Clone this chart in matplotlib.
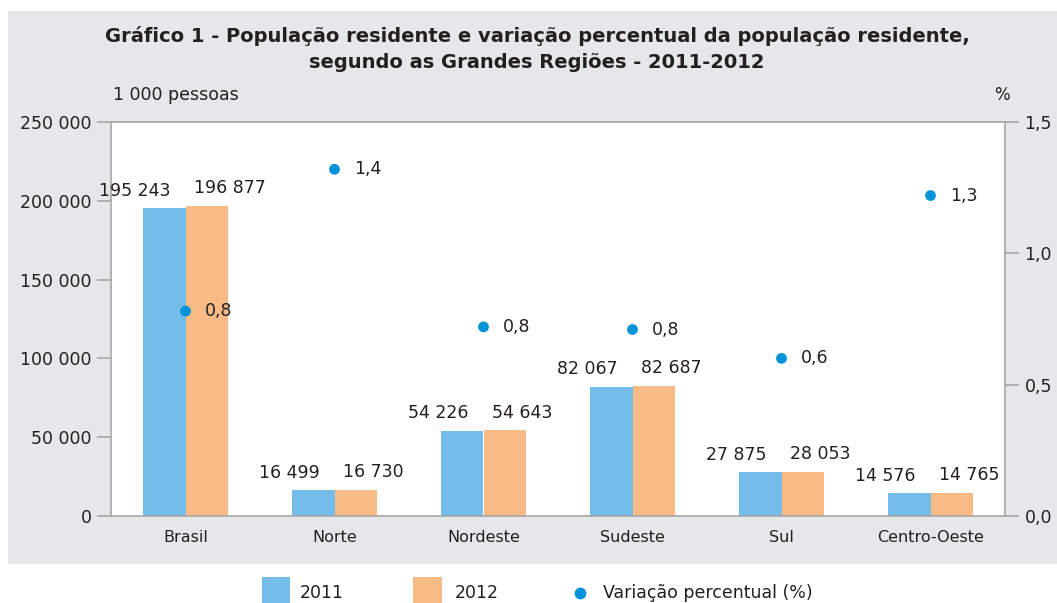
import numpy as np
import matplotlib.pyplot as plt
from matplotlib.patches import Rectangle

plt.rcParams['font.family'] = ['DejaVu Sans']

# data
regions = ['Brasil', 'Norte', 'Nordeste', 'Sudeste', 'Sul', 'Centro-Oeste']
pop_2011 = [195243, 16499, 54226, 82067, 27875, 14576]
pop_2012 = [196877, 16730, 54643, 82687, 28053, 14765]
var_pct = [0.78, 1.32, 0.72, 0.71, 0.60, 1.22]
var_labels = ['0,8', '1,4', '0,8', '0,8', '0,6', '1,3']
legend_labels = ['2011', '2012', 'Variação percentual (%)']

c_2011 = '#74bde8'
c_2012 = '#f9bb85'
c_dot = '#0093d8'
c_bg = '#e6e7e9'
c_axis = '#a6a6a6'
c_text = '#231f20'

W, H = 1057, 603
fig = plt.figure(figsize=(W / 100, H / 100), dpi=100)
fig.patches.append(Rectangle((8 / W, 1 - 564 / H), 1.0, (564 - 11) / H, transform=fig.transFigure,
                             facecolor=c_bg, edgecolor='none', zorder=-10))

ax = fig.add_axes([111 / W, 1 - 516 / H, (1005 - 111) / W, (516 - 122) / H])
ax.set_facecolor('white')
x = np.arange(len(regions))
w = 0.285
ax.bar(x - w/2, pop_2011, w, color=c_2011, zorder=2)
ax.bar(x + w/2, pop_2012, w, color=c_2012, zorder=2)
ax.set_xlim(-0.5, len(regions) - 0.5)
ax.set_ylim(0, 250000)
ax.set_yticks(np.arange(0, 250001, 50000))
ax.set_yticklabels([f'{v:,}'.replace(',', ' ') for v in range(0, 250001, 50000)])
ax.set_xticks(x)
ax.set_xticklabels(regions)
ax.tick_params(axis='x', length=0, pad=10, labelsize=11.5, labelcolor=c_text)
ax.tick_params(axis='y', length=10, color=c_axis, width=1.2, labelsize=12.5, labelcolor=c_text, pad=4)
for s in ax.spines.values():
    s.set_color(c_axis)
    s.set_linewidth(1.2)

for i in range(len(regions)):
    ax.annotate(f'{pop_2011[i]:,}'.replace(',', ' '), (x[i] - 0.1, pop_2011[i]),
                xytext=(0, 6), textcoords='offset points', ha='right', va='bottom',
                fontsize=12.5, color=c_text)
    ax.annotate(f'{pop_2012[i]:,}'.replace(',', ' '), (x[i] + 0.06, pop_2012[i]),
                xytext=(0, 6), textcoords='offset points', ha='left', va='bottom',
                fontsize=12.5, color=c_text)

ax2 = ax.twinx()
ax2.set_ylim(0, 1.5)
ax2.set_yticks([0, 0.5, 1.0, 1.5])
ax2.set_yticklabels(['0,0', '0,5', '1,0', '1,5'])
ax2.tick_params(axis='y', length=10, color=c_axis, width=1.2, labelsize=12.5, labelcolor=c_text, pad=4)
for s in ax2.spines.values():
    s.set_visible(False)
ax2.scatter(x, var_pct, s=60, color=c_dot, zorder=5, edgecolors='none')
for i in range(len(regions)):
    ax2.annotate(var_labels[i], (x[i], var_pct[i]), xytext=(14, 0), textcoords='offset points',
                 ha='left', va='center', fontsize=12.5, color=c_text)

fig.text(537 / W, 1 - 36 / H, 'Gráfico 1 - População residente e variação percentual da população residente,',
         ha='center', va='center', fontsize=14, fontweight='bold', color=c_text)
fig.text(537 / W, 1 - 63 / H, 'segundo as Grandes Regiões - 2011-2012',
         ha='center', va='center', fontsize=14, fontweight='bold', color=c_text)
fig.text(113 / W, 1 - 95 / H, '1 000 pessoas', ha='left', va='center', fontsize=12.5, color=c_text)
fig.text(1002 / W, 1 - 95 / H, '%', ha='center', va='center', fontsize=12, color=c_text)

# legend, laid out as in the source
ly = 1 - 593 / H
fig.patches.append(Rectangle((262 / W, 1 - 606 / H), 28 / W, 29 / H, transform=fig.transFigure,
                             facecolor=c_2011, edgecolor='none'))
fig.patches.append(Rectangle((413 / W, 1 - 606 / H), 29 / W, 29 / H, transform=fig.transFigure,
                             facecolor=c_2012, edgecolor='none'))
fig.text(300 / W, ly, legend_labels[0], ha='left', va='center', fontsize=12.5, color=c_text)
fig.text(455 / W, ly, legend_labels[1], ha='left', va='center', fontsize=12.5, color=c_text)
fig.lines.append(plt.Line2D([580 / W], [ly], transform=fig.transFigure, marker='o', linestyle='none',
                            markersize=8.5, color=c_dot, markeredgewidth=0))
fig.text(603 / W, ly, legend_labels[2], ha='left', va='center', fontsize=12.5, color=c_text)

fig.savefig('out.png', dpi=100)
